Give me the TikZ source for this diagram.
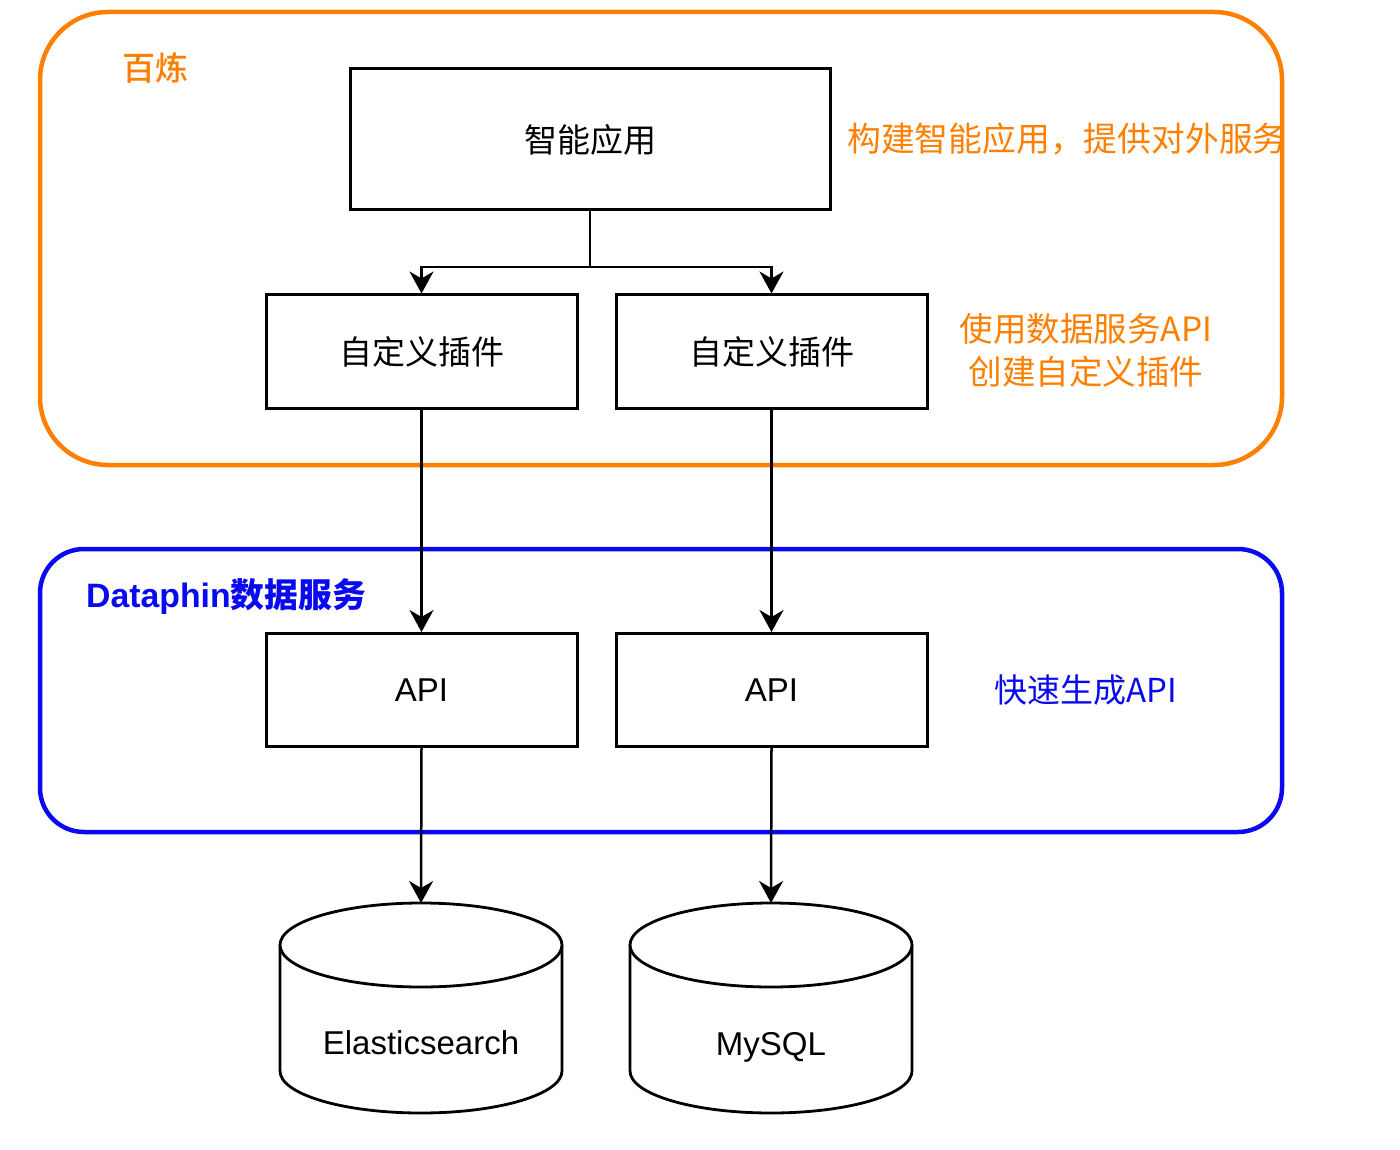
\documentclass[tikz,border=0pt]{standalone}
\usepackage{fontspec}
\setmainfont{Liberation Sans}
\newfontfamily\cjk{Noto Sans CJK SC}
\newfontfamily\cjkm{Noto Sans CJK SC Medium}
\usetikzlibrary{arrows.meta}
\definecolor{bxorange}{HTML}{FF8000}
\definecolor{bxblue}{HTML}{0A0AF0}
\begin{document}
\begin{tikzpicture}[x=1pt,y=-1pt,
  box/.style={draw=black,line width=3pt,minimum width=311pt,minimum height=113pt,inner sep=0pt,font=\fontsize{33}{38}\selectfont},
  arr/.style={line width=2.5pt,-{Stealth[length=22pt,width=24pt,inset=7pt]}},
  plain/.style={line width=2.8pt},
  frameo/.style={draw=bxorange,line width=4.5pt,rounded corners=68pt,inner sep=0pt},
  frameb/.style={draw=bxblue,line width=4.5pt,rounded corners=44pt,inner sep=0pt},
  lbl/.style={inner sep=0pt,font=\fontsize{33}{40}\selectfont}]
\fill[white] (0,0) rectangle (1400,1150);
\useasboundingbox (0,0) rectangle (1400,1150);

% frames
\node[frameo,minimum width=1242pt,minimum height=453pt] (bailian) at (661,238.5) {};
\node[frameb,minimum width=1242pt,minimum height=283pt] (dataphin) at (661,690.5) {};

% frame labels
\node[lbl,text=bxorange] (bailianlbl) at (155,68) {\cjkm 百炼};
\node[lbl,text=bxblue,anchor=west,font=\fontsize{33.8}{40}\selectfont] (dataphinlbl) at (86,597) {\bfseries Dataphin\cjk 数据服务};

% boxes
\node[box,minimum width=480pt,minimum height=141pt] (app) at (590,139.5) {\cjk 智能应用};
\node[box] (p1) at (421.5,351.5) {\cjk 自定义插件};
\node[box] (p2) at (771.5,351.5) {\cjk 自定义插件};
\node[box] (api1) at (421.5,690) {API};
\node[box] (api2) at (771.5,690) {API};

% side notes
\begin{scope}
\clip (0,0) rectangle (1282,1150);
\node[lbl,text=bxorange,anchor=west,font=\fontsize{33.8}{40}\selectfont] (note1) at (847,139) {\cjk 构建智能应用，提供对外服务};
\end{scope}
\node[lbl,text=bxorange,align=center,font=\fontsize{33.5}{43}\selectfont] (note2) at (1086,350) {\cjk 使用数据服务API\\\cjk 创建自定义插件};
\node[lbl,text=bxblue] (note3) at (1086,690) {\cjk 快速生成API};

% cylinders
\draw[plain,fill=white] (280,945) -- (280,1071) arc[start angle=180,end angle=0,x radius=141,y radius=42] -- (562,945);
\draw[plain,fill=white] (421,945) ellipse[x radius=141,y radius=42];
\draw[plain,fill=white] (630,945) -- (630,1071) arc[start angle=180,end angle=0,x radius=141,y radius=42] -- (912,945);
\draw[plain,fill=white] (771,945) ellipse[x radius=141,y radius=42];
\coordinate (es) at (421,903);
\coordinate (my) at (771,903);
\node[lbl] (estext) at (421,1043) {Elasticsearch};
\node[lbl,anchor=base] (mytext) at (771,1055) {MySQL};

% connectors
\coordinate (split) at (590,267);
\draw[plain] (app.south) -- (split);
\draw[arr] (split) -| (p1.north);
\draw[arr] (split) -| (p2.north);
\draw[arr] (p1.south) -- (api1.north);
\draw[arr] (p2.south) -- (api2.north);
\draw[arr] (api1.south) -- (es);
\draw[arr] (api2.south) -- (my);
\end{tikzpicture}
\end{document}
